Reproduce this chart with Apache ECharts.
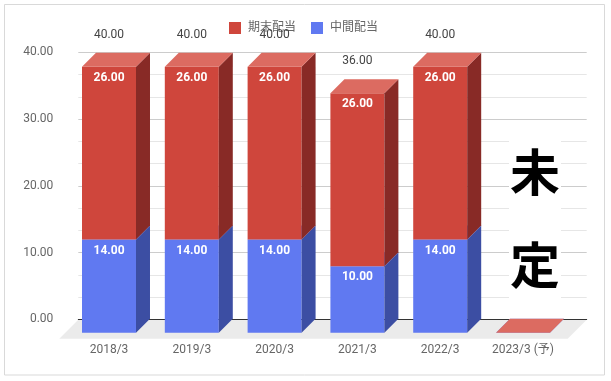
<!DOCTYPE html>
<html><head><meta charset="utf-8">
<script src="https://cdn.jsdelivr.net/npm/echarts@6/dist/echarts.min.js"></script>
<style>html,body{margin:0;padding:0;background:#fff}#c{width:611px;height:381px}</style>
</head><body><div id="c"></div>
<script>
const categories = ['2018/3', '2019/3', '2020/3', '2021/3', '2022/3', '2023/3 (予)'];
const interimDividend = [14, 14, 14, 10, 14, 0];   // 中間配当
const yearEndDividend = [26, 26, 26, 26, 26, 0];   // 期末配当
const totalDividend = [40, 40, 40, 36, 40, null];
const yMin = 0, yMax = 40, yInterval = 10;

const FONT = 'Roboto, "Noto Sans CJK JP", sans-serif';
const DEPTH = 14;
const RED = {front: '#cf463c', top: '#dc6b61', side: '#882a26'};
const BLUE = {front: '#6079f1', top: '#8396f4', side: '#3c4ea3'};

function barRenderer(col) {
  return function (params, api) {
    const i = api.value(0), lo = api.value(1), hi = api.value(2);
    const p0 = api.coord([i, lo]);
    const p1 = api.coord([i, hi]);
    const bw = api.size([1, 0])[0] * 0.652;
    const L = p0[0] - bw / 2, R = p0[0] + bw / 2, yb = p0[1], yt = p1[1], d = DEPTH;
    const ch = [
      {type: 'rect', shape: {x: L, y: yt, width: bw, height: yb - yt}, style: {fill: col.front}},
      {type: 'polygon', shape: {points: [[R, yb], [R + d, yb - d], [R + d, yt - d], [R, yt]]}, style: {fill: col.side}},
      {type: 'polygon', shape: {points: [[L, yt], [R, yt], [R + d, yt - d], [L + d, yt - d]]}, style: {fill: col.top}}
    ];
    if (hi - lo > 0) {
      ch.push({type: 'text', x: p0[0], y: yt + 11, style: {
        text: (hi - lo).toFixed(2), fill: '#fff', font: 'bold 12px ' + FONT,
        align: 'center', verticalAlign: 'middle'}});
    }
    return {type: 'group', children: ch};
  };
}

const chart = echarts.init(document.getElementById('c'), null, {renderer: 'canvas'});
chart.setOption({
  animation: false,
  backgroundColor: '#fff',
  textStyle: {fontFamily: FONT},
  legend: {
    data: ['期末配当', '中間配当'], left: 224, top: 17, icon: 'rect',
    itemWidth: 12, itemHeight: 12, itemGap: 15,
    textStyle: {color: '#666', fontSize: 12, fontFamily: FONT, padding: [0, 0, 0, 2]}
  },
  grid: [
    {left: 78.3, right: 24.3, top: 52.3, bottom: 61.7},
    {left: 67.6, right: 46.6, top: 66.7, bottom: 48.3}
  ],
  xAxis: [
    {gridIndex: 0, type: 'category', data: categories, axisLabel: {show: false}, axisTick: {show: false},
     axisLine: {show: true, lineStyle: {color: '#333', width: 1}}},
    {gridIndex: 1, type: 'category', data: categories, axisTick: {show: false}, axisLine: {show: false},
     axisLabel: {color: '#666', fontSize: 12, margin: 11, fontFamily: FONT}}
  ],
  yAxis: [
    {gridIndex: 0, type: 'value', min: yMin, max: yMax, interval: yInterval,
     axisLabel: {color: '#666', fontSize: 12, margin: 25, fontFamily: FONT, formatter: v => v.toFixed(2)},
     axisLine: {show: false}, axisTick: {show: false},
     splitLine: {lineStyle: {color: '#cccccc'}},
     minorTick: {show: false, splitNumber: 3},
     minorSplitLine: {show: true, lineStyle: {color: '#e6e6e6'}}},
    {gridIndex: 1, type: 'value', min: yMin, max: yMax, show: false, splitLine: {show: false}}
  ],
  graphic: [
    {type: 'rect', shape: {x: 4.5, y: 4.5, width: 600, height: 370.5}, style: {fill: null, stroke: '#d9d9d9', lineWidth: 1}, z: 100},
    {type: 'rect', shape: {x: 509, y: 125, width: 52, height: 180}, style: {fill: '#fff'}, z: 100},
    {type: 'text', x: 535, y: 172, style: {text: '未', fill: '#000', font: 'bold 50px "Noto Sans CJK JP"', align: 'center', verticalAlign: 'middle'}, z: 101},
    {type: 'text', x: 535, y: 265, style: {text: '定', fill: '#000', font: 'bold 50px "Noto Sans CJK JP"', align: 'center', verticalAlign: 'middle'}, z: 101}
  ],
  series: [
    {
      type: 'custom', name: 'floor', xAxisIndex: 0, yAxisIndex: 0, z: -1, silent: true,
      data: [[0, 0]],
      renderItem: function (params, api) {
        const cs = params.coordSys;
        const yb = cs.y + cs.height + 0.5, x0 = cs.x, x1 = cs.x + cs.width, f = 19;
        return {type: 'polygon', shape: {points: [[x0, yb], [x1, yb], [x1 - f, yb + f], [x0 - f, yb + f]]},
                style: {fill: '#ebebeb'}};
      }
    },
    {
      type: 'custom', name: '中間配当', xAxisIndex: 1, yAxisIndex: 1,
      itemStyle: {color: BLUE.front},
      encode: {x: 0, y: [1, 2]},
      data: categories.map((c, i) => [i, 0, interimDividend[i]]),
      renderItem: barRenderer(BLUE)
    },
    {
      type: 'custom', name: '期末配当', xAxisIndex: 1, yAxisIndex: 1,
      itemStyle: {color: RED.front},
      encode: {x: 0, y: [1, 2]},
      data: categories.map((c, i) => [i, interimDividend[i], interimDividend[i] + yearEndDividend[i]]),
      renderItem: barRenderer(RED)
    },
    {
      type: 'custom', name: 'total', xAxisIndex: 1, yAxisIndex: 1, silent: true, z: 10,
      encode: {x: 0, y: 1},
      data: totalDividend.map((t, i) => [i, t]).filter(d => d[1] != null),
      renderItem: function (params, api) {
        const p = api.coord([api.value(0), api.value(1)]);
        return {type: 'text', x: p[0], y: p[1] - 32, style: {
          text: api.value(1).toFixed(2), fill: '#444', font: '12px ' + FONT, align: 'center', verticalAlign: 'middle'}};
      }
    }
  ]
});
</script>
</body></html>
